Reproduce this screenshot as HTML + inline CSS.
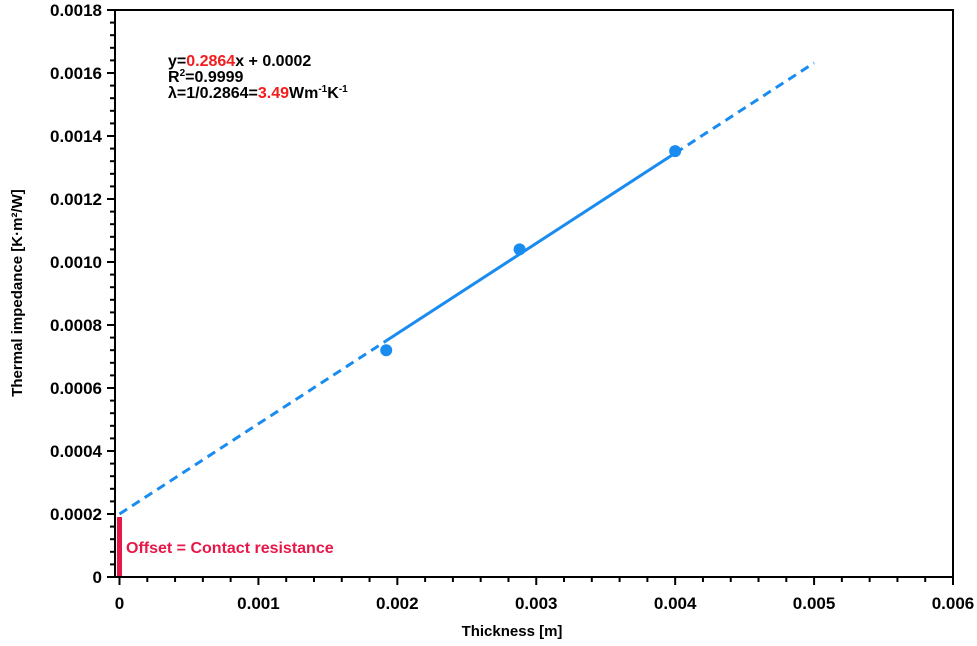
<!DOCTYPE html>
<html><head><meta charset="utf-8"><style>
body{margin:0;background:#fff;}
svg text{font-family:"Liberation Sans",sans-serif;font-weight:bold;}
</style></head><body>
<svg id="chart" width="977" height="641" xmlns="http://www.w3.org/2000/svg">
<g id="axes"></g><g id="marks"></g>
<text x="168" y="66" font-size="16">y=<tspan fill="#f41c1c">0.2864</tspan>x + 0.0002</text>
<text x="168" y="82" font-size="16">R<tspan font-size="10" dy="-6">2</tspan><tspan dy="6">=0.9999</tspan></text>
<text x="168" y="98" font-size="16">λ=1/0.2864=<tspan fill="#f41c1c">3.49</tspan>Wm<tspan font-size="10" dy="-6">-1</tspan><tspan dy="6">K</tspan><tspan font-size="10" dy="-6">-1</tspan></text>
<text x="126" y="553" font-size="16" fill="#e8174a">Offset = Contact resistance</text>
<text x="512" y="636" font-size="15" text-anchor="middle">Thickness [m]</text>
<text transform="translate(22,293) rotate(-90)" font-size="15" text-anchor="middle">Thermal impedance [K·m²/W]</text>
</svg>
<script>
const xData=[0.00192,0.00288,0.004];
const yData=[0.00072,0.00104,0.001352];
const slope=0.2864, intercept=0.0002;
const xTicks=["0","0.001","0.002","0.003","0.004","0.005","0.006"];
const yTicks=["0","0.0002","0.0004","0.0006","0.0008","0.0010","0.0012","0.0014","0.0016","0.0018"];
const NS="http://www.w3.org/2000/svg";
const L=115,R=953,T=10,B=577,X0=119.5;
const sx=v=>X0+v/0.006*(R-X0);
const sy=v=>B-v/0.0018*(B-T);
function mk(tag,attrs,parent){const e=document.createElementNS(NS,tag);for(const k in attrs)e.setAttribute(k,attrs[k]);parent.appendChild(e);return e;}
const ax=document.getElementById('axes'),mg=document.getElementById('marks');
const box=mk('rect',{x:L,y:T,width:R-L,height:B-T,fill:'none',stroke:'#000','stroke-width':2},ax);


for(let i=0;i<xTicks.length;i++){
 const v=i*0.001;
 for(let m=0;m<5&&(i<xTicks.length-1||m==0);m++){
  const x=sx(v+m*0.0002);
  const t=mk('line',{x1:x,x2:x,y1:B,y2:B+(m?5:8),stroke:'#000','stroke-width':2},ax);
  
  
 }
 const tx=mk('text',{x:sx(v),y:609,'font-size':17,'text-anchor':'middle'},ax);
 tx.textContent=xTicks[i];
 
 
}
for(let i=0;i<yTicks.length;i++){
 const v=i*0.0002;
 for(let m=0;m<5&&(i<yTicks.length-1||m==0);m++){
  const y=sy(v+m*0.00004);
  const t=mk('line',{x1:L-(m?5:8),x2:L,y1:y,y2:y,stroke:'#000','stroke-width':2},ax);
  
  
 }
 const tx=mk('text',{x:102,y:sy(v)+6,'font-size':17,'text-anchor':'end'},ax);
 tx.textContent=yTicks[i];
 
 
}
const f=x=>slope*x+intercept;
const segs=[[0,xData[0],true],[xData[0],xData[xData.length-1],false],[xData[xData.length-1],0.005,true]];
segs.forEach(s=>{
 const l=mk('line',{x1:sx(s[0]),y1:sy(f(s[0])),x2:sx(s[1]),y2:sy(f(s[1])),stroke:'#1a8cf0','stroke-width':3},mg);
 if(s[2])l.setAttribute('stroke-dasharray','9,6');
 
 
});
xData.forEach((x,i)=>{
 const c=mk('circle',{cx:sx(x),cy:sy(yData[i]),r:6,fill:'#1a8cf0'},mg);
 
 
});
const bar=mk('rect',{x:sx(0)-2.5,y:sy(intercept)+3,width:5,height:B-sy(intercept)-4,fill:'#e8174a'},mg);


</script>
</body></html>
